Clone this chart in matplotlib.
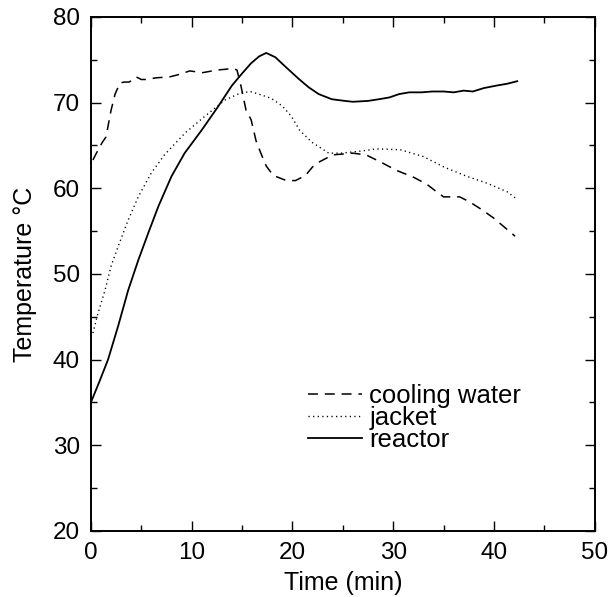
import numpy as np
import matplotlib
matplotlib.use('Agg')
import matplotlib.pyplot as plt

plt.rcParams['font.family'] = ['Liberation Sans', 'DejaVu Sans']

# temperatures (time in minutes, temperature in degC)
t_reactor = [0, 0.9, 1.7, 2.7, 3.7, 4.7, 5.7, 6.7, 8.0, 9.3, 11.0, 12.6, 14.0,
             15.0, 15.9, 16.7, 17.4, 18.3, 19.3, 20.6, 21.6, 22.6, 23.9, 25.2,
             26.0, 27.5, 28.6, 29.6, 30.6, 31.6, 32.8, 33.9, 35.0, 36.0, 37.0,
             37.9, 39.0, 40.3, 41.3, 42.3]
T_reactor = [35.0, 37.6, 40.0, 43.9, 48.1, 51.6, 54.8, 57.9, 61.4, 64.1, 66.8,
             69.5, 72.0, 73.4, 74.6, 75.4, 75.8, 75.3, 74.2, 72.8, 71.8, 71.0,
             70.4, 70.2, 70.1, 70.2, 70.4, 70.6, 71.0, 71.2, 71.2, 71.3, 71.3,
             71.2, 71.4, 71.3, 71.7, 72.0, 72.2, 72.5]

t_cooling = [0.2, 0.5, 1.1, 1.5, 2.0, 2.4, 2.9, 3.3, 3.8, 4.5, 5.0, 5.5, 6.5,
             7.8, 8.8, 9.8, 11.1, 12.5, 13.4, 14.1, 14.5, 14.9, 15.4, 15.9,
             16.4, 16.9, 17.4, 18.1, 19.4, 20.3, 21.3, 22.0, 22.7, 24.0, 26.0,
             27.3, 28.7, 30.3, 32.0, 33.3, 34.3, 35.0, 36.6, 37.6, 38.8, 40.0,
             41.0, 42.1]
T_cooling = [63.3, 64.0, 65.3, 66.0, 69.1, 71.0, 72.3, 72.4, 72.4, 73.0, 72.7,
             72.7, 72.9, 73.0, 73.3, 73.7, 73.5, 73.8, 73.9, 74.0, 73.8, 71.9,
             69.1, 68.0, 65.5, 64.0, 62.6, 61.5, 60.9, 60.9, 61.5, 62.5, 63.1,
             63.9, 64.1, 63.9, 63.1, 62.1, 61.3, 60.5, 59.6, 59.0, 59.0, 58.4,
             57.5, 56.5, 55.5, 54.4]

t_jacket = [0.2, 0.7, 1.4, 2.0, 2.7, 3.7, 4.7, 6.0, 7.3, 9.3, 11.3, 13.3, 14.8,
            15.8, 16.9, 17.9, 19.0, 19.9, 20.7, 21.9, 23.6, 24.8, 26.5, 28.4,
            30.7, 33.0, 35.0, 37.3, 39.3, 41.3, 42.2]
T_jacket = [43.1, 45.4, 48.1, 50.9, 53.2, 56.3, 59.0, 61.8, 63.9, 66.4, 68.4,
            70.3, 71.1, 71.3, 70.9, 70.5, 69.6, 68.4, 66.8, 65.4, 64.1, 64.1,
            64.3, 64.6, 64.5, 63.7, 62.5, 61.4, 60.6, 59.6, 58.8]

labels = ['cooling water', 'jacket', 'reactor']

fig = plt.figure(figsize=(6.1, 5.97), dpi=100)
ax = fig.add_axes([0.149, 0.1106, 0.826, 0.861])

ax.plot(t_cooling, T_cooling, color='black', lw=1.1, linestyle=(0, (6.5, 4.5)),
        label=labels[0])
ax.plot(t_jacket, T_jacket, color='black', lw=1.0, linestyle=(0, (0.9, 2.4)),
        label=labels[1])
ax.plot(t_reactor, T_reactor, color='black', lw=1.3, label=labels[2])

ax.set_xlim(0, 50)
ax.set_ylim(20, 80)
ax.set_xticks(np.arange(0, 51, 10))
ax.set_xticks(np.arange(0, 51, 5), minor=True)
ax.set_yticks(np.arange(20, 81, 10))
ax.set_yticks(np.arange(20, 81, 5), minor=True)

ax.tick_params(which='both', direction='in', top=True, right=True,
               labelsize=17.5, width=1.0)
ax.tick_params(which='major', length=7, pad=8)
ax.tick_params(which='minor', length=4.5)
for s in ax.spines.values():
    s.set_linewidth(1.4)

ax.set_xlabel('Time (min)', fontsize=18, labelpad=5)
ax.set_ylabel('Temperature °C', fontsize=18, labelpad=11)

ax.legend(loc='upper left', bbox_to_anchor=(0.43, 0.285), frameon=False,
          fontsize=18.5, handlelength=2.1, handletextpad=0.3,
          labelspacing=-0.08, borderpad=0, borderaxespad=0)

fig.savefig('out.png', dpi=100)
